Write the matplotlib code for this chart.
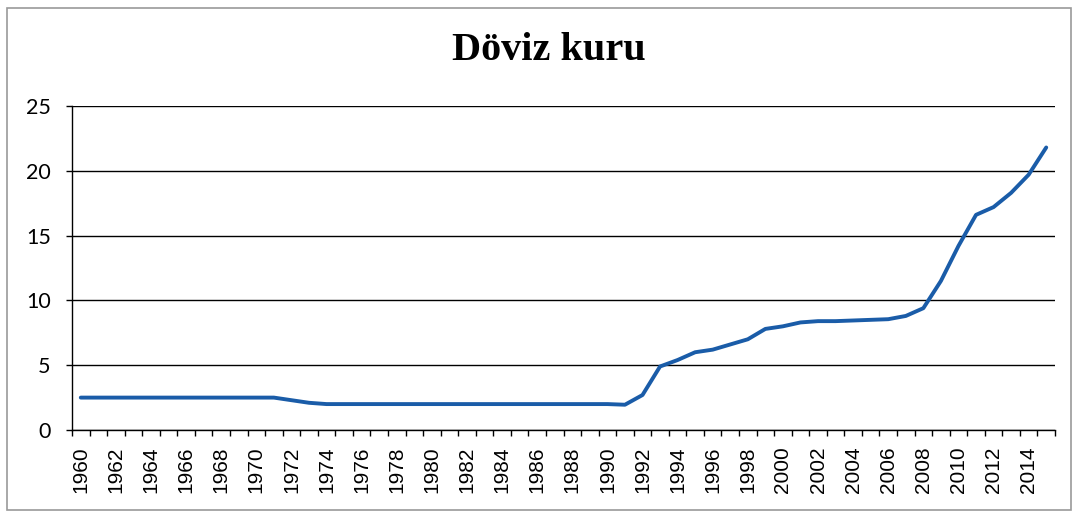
import matplotlib.pyplot as plt
from matplotlib.patches import Rectangle
import numpy as np

plt.rcParams['font.family'] = ['Lato', 'DejaVu Sans']
plt.rcParams['xtick.labelsize'] = 15
plt.rcParams['ytick.labelsize'] = 15.5

# Data
years = list(range(1960, 2016))
values = [2.5, 2.5, 2.5, 2.5, 2.5, 2.5, 2.5, 2.5, 2.5, 2.5,
          2.5, 2.5, 2.3, 2.1, 2.0, 2.0, 2.0, 2.0, 2.0, 2.0,
          2.0, 2.0, 2.0, 2.0, 2.0, 2.0, 2.0, 2.0, 2.0, 2.0,
          2.0, 1.95, 2.7, 4.9, 5.4, 6.0, 6.2, 6.6, 7.0, 7.8,
          8.0, 8.3, 8.4, 8.4, 8.45, 8.5, 8.55, 8.8, 9.4, 11.5,
          14.2, 16.6, 17.2, 18.3, 19.7, 21.8]
tick_years = years[::2]  # 1960 .. 2014
title = 'Döviz kuru'

fig = plt.figure(figsize=(10.76, 5.13), dpi=100)
ax = fig.add_axes([72 / 1076, 1 - 430 / 513, (1055 - 72) / 1076, (430 - 106) / 513])

ax.plot(years, values, color='#1a5ca8', linewidth=2.8, solid_capstyle='round')

ax.set_xlim(years[0] - 0.5, years[-1] + 0.5)
ax.set_ylim(0, 25)
ax.set_yticks([0, 5, 10, 15, 20, 25])
ax.set_xticks(tick_years)
ax.set_xticklabels([str(y) for y in tick_years], rotation=90,
                   fontsize=15, fontfamily='Liberation Sans')
ax.set_yticklabels(['0', '5', '10', '15', '20', '25'], fontsize=15.5)
ax.set_xticks(np.arange(years[0] - 0.5, years[-1] + 1), minor=True)
ax.tick_params(axis='x', which='major', length=0, pad=12)
ax.tick_params(axis='x', which='minor', length=4.3, width=1, color='black', direction='out')
ax.tick_params(axis='y', length=4.3, width=1, direction='out', pad=11)

ax.grid(axis='y', color='black', linewidth=1)
ax.set_axisbelow(True)
for side in ['top', 'right']:
    ax.spines[side].set_visible(False)
ax.spines['left'].set_linewidth(1)
ax.spines['bottom'].set_linewidth(1)

fig.text(549 / 1076, 1 - 51 / 513, title, ha='center', va='center',
         fontfamily='Liberation Serif', fontweight='bold', fontsize=29)

# outer chart border
fig.patches.append(Rectangle((7 / 1076, 3 / 513), 1064 / 1076, 502 / 513,
                             transform=fig.transFigure, fill=False,
                             edgecolor='#9a9a9a', linewidth=1.2))

fig.savefig('out.png', dpi=100)
